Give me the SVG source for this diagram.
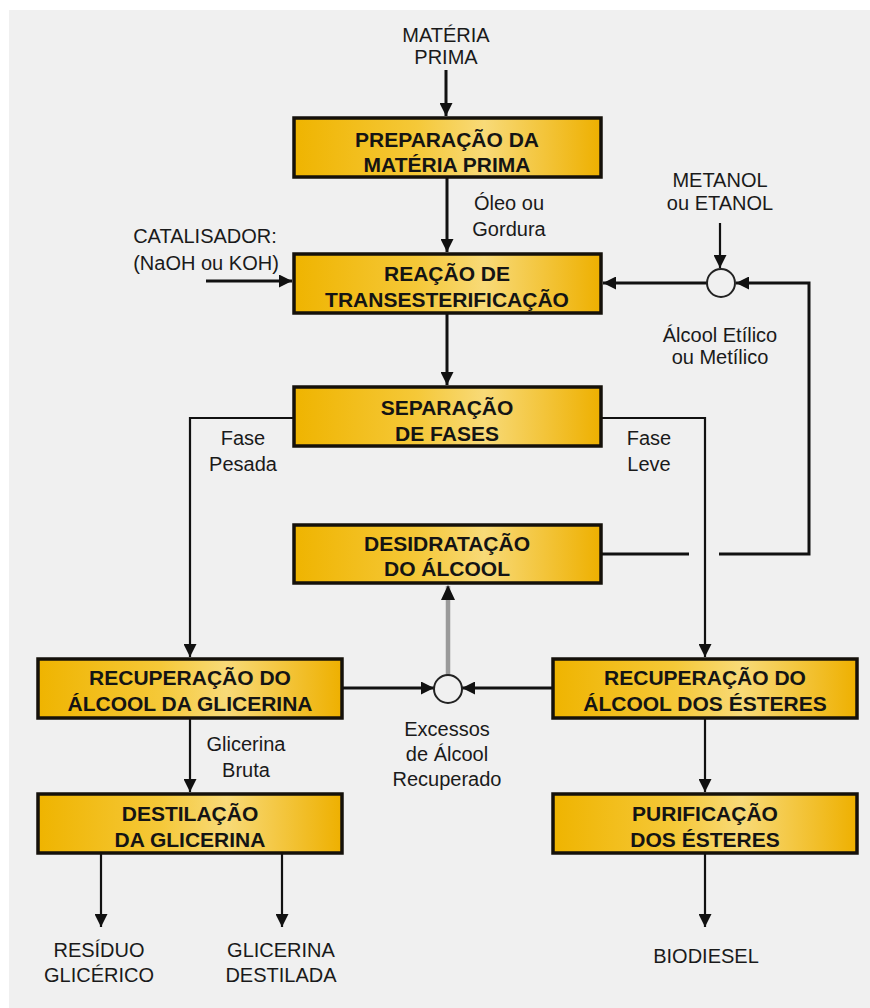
<svg xmlns="http://www.w3.org/2000/svg" width="870" height="1008" viewBox="0 0 870 1008">
<style>
.box{fill:url(#g);stroke:#15110a;stroke-width:3.5}
.bt{font-family:"Liberation Sans",Arial,sans-serif;font-weight:bold;font-size:21px;fill:#141414;text-anchor:middle}
.lb{font-family:"Liberation Sans",Arial,sans-serif;font-size:20px;fill:#1a1a1a;text-anchor:middle}
.ln{fill:none;stroke:#111;stroke-width:3}
.th{fill:none;stroke:#111;stroke-width:2.2}
.gr{fill:none;stroke:#9a9a9a;stroke-width:4.5}
.jn{fill:#f0f0f0;stroke:#222;stroke-width:2}
</style>
<defs>
<linearGradient id="g" x1="0" y1="0" x2="1" y2="0">
<stop offset="0" stop-color="#efb400"/>
<stop offset="0.4" stop-color="#f5c838"/>
<stop offset="0.62" stop-color="#f8da78"/>
<stop offset="1" stop-color="#eeb000"/>
</linearGradient>
<marker id="a" markerUnits="userSpaceOnUse" markerWidth="13" markerHeight="13" refX="13" refY="6.5" orient="auto" viewBox="0 0 13 13">
<path d="M0,0 L13,6.5 L0,13 z" fill="#111"/>
</marker>
<marker id="ag" markerUnits="userSpaceOnUse" markerWidth="14" markerHeight="14" refX="14" refY="7" orient="auto" viewBox="0 0 14 14">
<path d="M0,0 L14,7 L0,14 z" fill="#111"/>
</marker>
</defs>
<rect x="0" y="0" width="870" height="1008" fill="#ffffff"/>
<rect x="9" y="10" width="861" height="998" fill="#f0f0f0"/>

<g id="connectors">
<path class="ln" d="M446,70 V116" marker-end="url(#a)"/>
<path class="ln" d="M447,177 V252" marker-end="url(#a)"/>
<path class="ln" d="M206,281 H292" marker-end="url(#a)"/>
<path class="th" d="M720,223 V268" marker-end="url(#a)"/>
<path class="ln" d="M707,283 H603" marker-end="url(#a)"/>
<path class="ln" d="M719,554 H809 V283 H736" marker-end="url(#a)"/>
<path class="ln" d="M601,554 H689"/>
<path class="ln" d="M447,313 V385" marker-end="url(#a)"/>
<path class="th" d="M293,418 H190 V657" marker-end="url(#a)"/>
<path class="th" d="M601,418 H705 V657" marker-end="url(#a)"/>
<path class="gr" d="M448,675 V586"/>
<path d="M441,600 L448,585 L455,600 z" fill="#111"/>
<path class="ln" d="M342,688 H434" marker-end="url(#a)"/>
<path class="ln" d="M553,688 H462" marker-end="url(#a)"/>
<path class="th" d="M190,718 V792" marker-end="url(#a)"/>
<path class="th" d="M705,718 V792" marker-end="url(#a)"/>
<path class="th" d="M101,853 V927" marker-end="url(#a)"/>
<path class="th" d="M282,853 V927" marker-end="url(#a)"/>
<path class="th" d="M705,853 V927" marker-end="url(#a)"/>
<circle class="jn" cx="721" cy="283" r="14"/>
<circle class="jn" cx="448" cy="689" r="14"/>
</g>

<g id="materia-prima">
<text class="lb" x="446" y="42">MATÉRIA</text>
<text class="lb" x="446" y="64">PRIMA</text>
</g>
<g id="preparacao">
<rect class="box" x="294" y="118" width="307" height="59"/>
<text class="bt" x="447" y="147">PREPARAÇÃO DA</text>
<text class="bt" x="447" y="172">MATÉRIA PRIMA</text>
</g>
<g id="oleo-label">
<text class="lb" x="509" y="210">Óleo ou</text>
<text class="lb" x="509" y="236">Gordura</text>
</g>
<g id="catalisador">
<text class="lb" x="205" y="243">CATALISADOR:</text>
<text class="lb" x="206" y="270">(NaOH ou KOH)</text>
</g>
<g id="metanol">
<text class="lb" x="720" y="187">METANOL</text>
<text class="lb" x="720" y="210">ou ETANOL</text>
</g>
<g id="reacao">
<rect class="box" x="294" y="254" width="307" height="59"/>
<text class="bt" x="447" y="281">REAÇÃO DE</text>
<text class="bt" x="447" y="307">TRANSESTERIFICAÇÃO</text>
</g>
<g id="alcool-label">
<text class="lb" x="720" y="342">Álcool Etílico</text>
<text class="lb" x="720" y="364">ou Metílico</text>
</g>
<g id="separacao">
<rect class="box" x="294" y="387" width="307" height="59"/>
<text class="bt" x="447" y="415">SEPARAÇÃO</text>
<text class="bt" x="447" y="441">DE FASES</text>
</g>
<g id="fase-pesada">
<text class="lb" x="243" y="445">Fase</text>
<text class="lb" x="243" y="471">Pesada</text>
</g>
<g id="fase-leve">
<text class="lb" x="649" y="445">Fase</text>
<text class="lb" x="649" y="471">Leve</text>
</g>
<g id="desidratacao">
<rect class="box" x="294" y="525" width="307" height="58"/>
<text class="bt" x="447" y="551">DESIDRATAÇÃO</text>
<text class="bt" x="447" y="576">DO ÁLCOOL</text>
</g>
<g id="rec-glicerina">
<rect class="box" x="38" y="659" width="304" height="59"/>
<text class="bt" x="190" y="685">RECUPERAÇÃO DO</text>
<text class="bt" x="190" y="711">ÁLCOOL DA GLICERINA</text>
</g>
<g id="rec-esteres">
<rect class="box" x="553" y="659" width="304" height="59"/>
<text class="bt" x="705" y="685">RECUPERAÇÃO DO</text>
<text class="bt" x="705" y="711">ÁLCOOL DOS ÉSTERES</text>
</g>
<g id="excessos">
<text class="lb" x="447" y="736">Excessos</text>
<text class="lb" x="447" y="761">de Álcool</text>
<text class="lb" x="447" y="786">Recuperado</text>
</g>
<g id="glicerina-bruta">
<text class="lb" x="246" y="751">Glicerina</text>
<text class="lb" x="246" y="777">Bruta</text>
</g>
<g id="destilacao">
<rect class="box" x="38" y="794" width="304" height="59"/>
<text class="bt" x="190" y="821">DESTILAÇÃO</text>
<text class="bt" x="190" y="847">DA GLICERINA</text>
</g>
<g id="purificacao">
<rect class="box" x="553" y="794" width="304" height="59"/>
<text class="bt" x="705" y="821">PURIFICAÇÃO</text>
<text class="bt" x="705" y="847">DOS ÉSTERES</text>
</g>
<g id="residuo">
<text class="lb" x="99" y="957">RESÍDUO</text>
<text class="lb" x="99" y="982">GLICÉRICO</text>
</g>
<g id="glicerina-destilada">
<text class="lb" x="281" y="957">GLICERINA</text>
<text class="lb" x="281" y="982">DESTILADA</text>
</g>
<g id="biodiesel">
<text class="lb" x="706" y="963">BIODIESEL</text>
</g>
</svg>
